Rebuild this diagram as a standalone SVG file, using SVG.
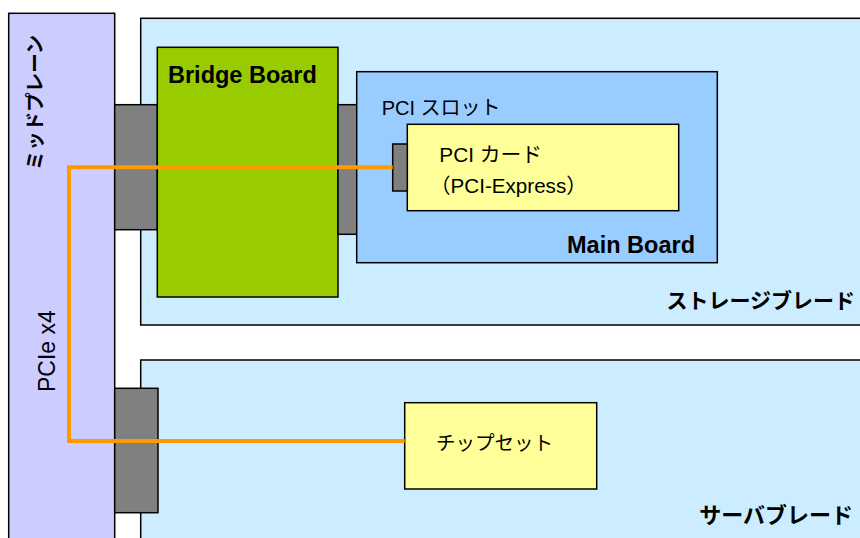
<svg xmlns="http://www.w3.org/2000/svg" width="860" height="538" viewBox="0 0 860 538">
<style>
.box{stroke:#000;stroke-width:1.5}
.conn{fill:#808080;stroke:#000;stroke-width:1.5}
.t{font-family:"Liberation Sans","Noto Sans CJK JP",sans-serif;fill:#000}
.b{font-weight:bold}
.wire{fill:none;stroke:#FF9900;stroke-width:4;stroke-linejoin:miter}
</style>
<rect width="860" height="538" fill="#fff"/>
<g id="midplane">
<rect class="box" x="8.7" y="13.3" width="106" height="540" fill="#CCCCFF" stroke="#222"/>
<text class="t b" font-size="19.5" transform="translate(35,102.5) rotate(-90)" text-anchor="middle" dominant-baseline="central">ミッドプレーン</text>
<text class="t" font-size="23" transform="translate(55,392) rotate(-90)">PCIe x4</text>
</g>
<g id="storage-blade">
<rect class="box" x="140.7" y="18.3" width="760" height="306.7" fill="#CCECFF"/>
<text class="t b" font-size="21" x="855" y="308" text-anchor="end">ストレージブレード</text>
</g>
<g id="server-blade">
<rect class="box" x="140.7" y="360" width="760" height="200" fill="#CCECFF"/>
<text class="t b" font-size="22" x="853" y="523" text-anchor="end">サーバブレード</text>
</g>
<g id="storage-connector">
<rect class="conn" x="114.7" y="104.7" width="42.6" height="125"/>
</g>
<g id="server-connector">
<rect class="conn" x="114.7" y="388.3" width="43.3" height="124.4"/>
</g>
<g id="bridge-board">
<rect class="box" x="157.3" y="47.3" width="180.7" height="249.7" fill="#99CC00"/>
<text class="t b" font-size="23.5" x="168" y="82.5">Bridge Board</text>
</g>
<g id="bridge-connector">
<rect class="conn" x="338" y="104.7" width="19" height="129.6"/>
</g>
<g id="main-board">
<rect class="box" x="356.7" y="71.7" width="360.6" height="191" fill="#99CCFF"/>
<text class="t" font-size="20" x="381.7" y="115">PCI スロット</text>
<text class="t b" font-size="23.5" x="695" y="253" text-anchor="end">Main Board</text>
</g>
<g id="pci-card">
<rect class="box" x="407.3" y="124.3" width="271.4" height="86.4" fill="#FFFF99"/>
<rect class="conn" x="392.7" y="144" width="14.6" height="47"/>
<text class="t" font-size="20.8" x="439.3" y="161.7">PCI カード</text>
<text class="t" font-size="20.6" x="430" y="193.3">（PCI-Express）</text>
</g>
<g id="chipset">
<rect class="box" x="404.7" y="402.7" width="192" height="86.3" fill="#FFFF99"/>
<text class="t" font-size="19.5" x="436" y="450">チップセット</text>
</g>
<g id="connectors">
<path class="wire" d="M392.7,167.3 H69 V441 H404.7"/>
</g>
</svg>
